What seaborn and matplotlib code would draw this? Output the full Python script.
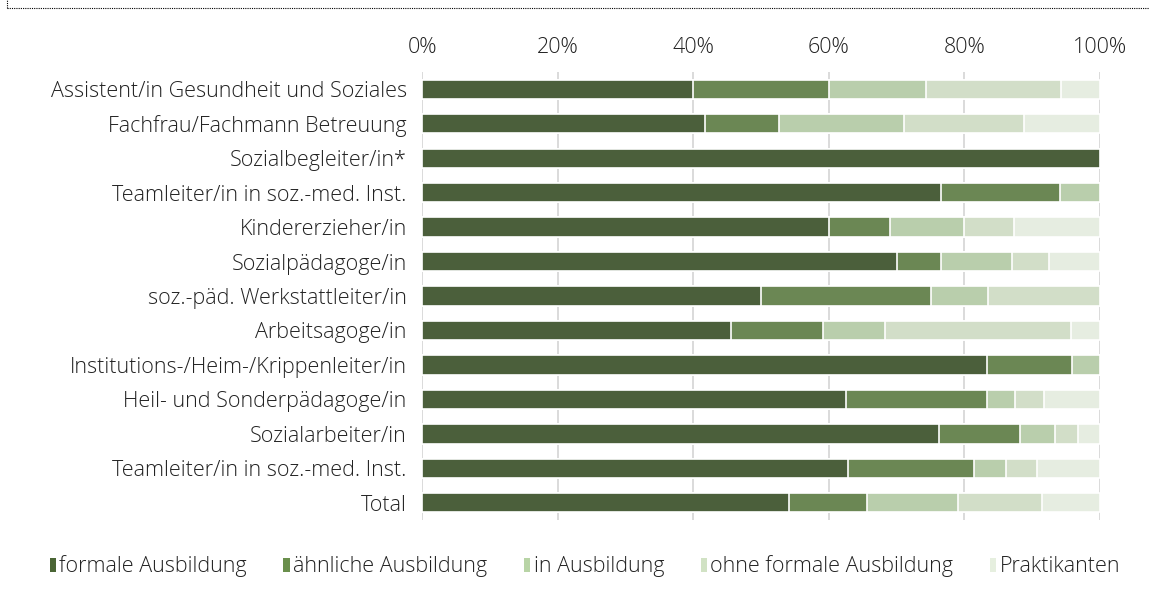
import matplotlib
matplotlib.use("Agg")
import matplotlib.pyplot as plt
from matplotlib.patches import Patch
import seaborn as sns
import numpy as np
import pandas as pd

berufe = ["Assistent/in Gesundheit und Soziales", "Fachfrau/Fachmann Betreuung", "Sozialbegleiter/in*",
          "Teamleiter/in in soz.-med. Inst.", "Kindererzieher/in", "Sozialpädagoge/in",
          "soz.-päd. Werkstattleiter/in", "Arbeitsagoge/in", "Institutions-/Heim-/Krippenleiter/in",
          "Heil- und Sonderpädagoge/in", "Sozialarbeiter/in", "Teamleiter/in in soz.-med. Inst.", "Total"]
kategorien = ["formale Ausbildung", "ähnliche Ausbildung", "in Ausbildung", "ohne formale Ausbildung", "Praktikanten"]

formal = [40.0, 41.7, 100.0, 76.5, 60.0, 70.0, 50.0, 45.5, 83.3, 62.5, 76.3, 62.8, 54.1]
aehnlich = [20.0, 10.9, 0.0, 17.6, 9.0, 6.5, 25.0, 13.6, 12.6, 20.8, 11.9, 18.6, 11.5]
in_ausb = [14.3, 18.5, 0.0, 5.9, 10.9, 10.5, 8.4, 9.2, 4.1, 4.2, 5.1, 4.7, 13.4]
ohne = [20.0, 17.7, 0.0, 0.0, 7.4, 5.5, 16.6, 27.4, 0.0, 4.2, 3.4, 4.6, 12.5]
prakt = [5.7, 11.2, 0.0, 0.0, 12.7, 7.5, 0.0, 4.3, 0.0, 8.3, 3.3, 9.3, 8.5]

farben = ["#4a6535", "#6a8f4c", "#b8d4a6", "#d1e2c4", "#e6efdf"]

# the job title "Teamleiter/in ..." occurs twice, so rows are keyed by position
df = pd.DataFrame({"zeile": np.arange(len(berufe)), kategorien[0]: formal, kategorien[1]: aehnlich,
                   kategorien[2]: in_ausb, kategorien[3]: ohne, kategorien[4]: prakt})
kum = df[kategorien].cumsum(axis=1)

sns.set_style("white")
plt.rcParams["font.family"] = ["Open Sans", "DejaVu Sans"]
plt.rcParams["font.weight"] = "light"

fig = plt.figure(figsize=(11.49, 6.02), dpi=100)
ax = fig.add_axes([0.3673, 0.1362, 0.5901, 0.7442])

# stacked bars: draw cumulative sums from the outside in
for kat, col in reversed(list(zip(kategorien, farben))):
    sns.barplot(x=kum[kat], y=df["zeile"], color=col, width=0.56, edgecolor="white",
                linewidth=1.2, orient="h", ax=ax, zorder=3)

ax.set_xlim(0, 100)
ax.set_ylim(len(berufe) - 0.5, -0.5)
ax.set_yticks(np.arange(len(berufe)))
ax.set_yticklabels(berufe)
ax.set_xticks(np.arange(0, 101, 20))
ax.set_xticklabels([f"{t}%" for t in range(0, 101, 20)])
ax.xaxis.tick_top()
ax.grid(axis="x", color="#d4d4d4", linewidth=1.2, zorder=0)
ax.grid(axis="y", visible=False)
ax.set_xlabel("")
ax.set_ylabel("")
sns.despine(ax=ax, left=True, bottom=True, top=True, right=True)
ax.tick_params(axis="both", length=0, labelsize=15.5, colors="#222222")
ax.tick_params(axis="y", pad=11)
ax.tick_params(axis="x", pad=10)

handles = [Patch(facecolor=c, edgecolor="none", label=k) for k, c in zip(kategorien, farben)]
fig.legend(handles=handles, loc="center", bbox_to_anchor=(0.509, 0.059), ncol=5, frameon=False,
           fontsize=15.5, handlelength=0.3, handleheight=0.65, handletextpad=0.15, columnspacing=1.7,
           labelcolor="#222222")

# dotted frame line at the top of the picture
fig.add_artist(plt.Line2D([0.006, 1.0], [0.987, 0.987], transform=fig.transFigure,
                          color="black", linestyle=(0, (1, 1)), linewidth=0.8))
fig.add_artist(plt.Line2D([0.006, 0.006], [0.987, 1.0], transform=fig.transFigure,
                          color="black", linestyle=(0, (1, 1)), linewidth=0.8))

fig.savefig("out.png", dpi=100)
